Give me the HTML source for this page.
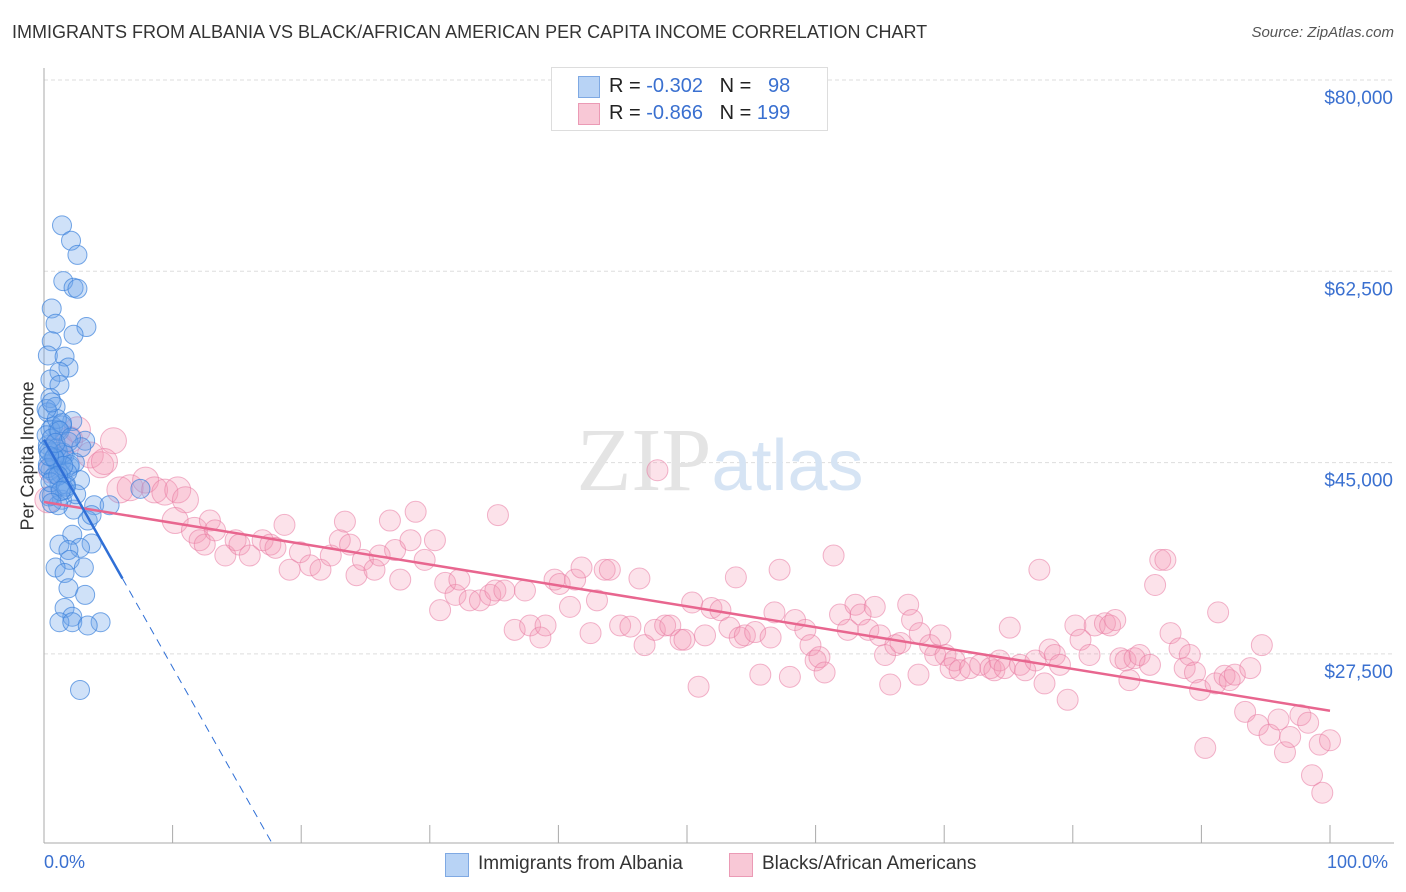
<!DOCTYPE html>
<html><head><meta charset="utf-8"><style>
body{margin:0;background:#fff;font-family:"Liberation Sans",sans-serif;}
#wrap{position:relative;width:1406px;height:892px;overflow:hidden;}
.t{position:absolute;white-space:nowrap;}
</style></head><body>
<div id="wrap">
<div class="t" style="left:12px;top:22px;font-size:18px;color:#333;">IMMIGRANTS FROM ALBANIA VS BLACK/AFRICAN AMERICAN PER CAPITA INCOME CORRELATION CHART</div>
<div class="t" style="right:12px;top:24px;font-size:15px;color:#555;font-style:italic;">Source: ZipAtlas.com</div>
<svg id="plot" width="1406" height="892" style="position:absolute;left:0;top:0"></svg>
<div class="t" style="left:28px;top:456px;font-size:18px;color:#333;transform:translate(-50%,-50%) rotate(-90deg);">Per Capita Income</div>
<div class="t" style="left:44px;top:852px;font-size:18px;color:#3a70d0;">0.0%</div>
<div class="t" style="left:1327px;top:852px;font-size:18px;color:#3a70d0;">100.0%</div>
<div style="position:absolute;left:551px;top:67px;width:275px;height:62px;border:1px solid #ddd;background:#fff;">
 <div style="position:absolute;left:26px;top:8px;width:20px;height:20px;background:#b8d3f5;border:1px solid #7fa9e3;"></div>
 <div class="t" style="left:57px;top:7px;font-size:20px;color:#222;">R = <span style="color:#3a70d0">-0.302</span>&nbsp;&nbsp;&nbsp;N = &nbsp;&nbsp;<span style="color:#3a70d0">98</span></div>
 <div style="position:absolute;left:26px;top:35px;width:20px;height:20px;background:#f8c8d6;border:1px solid #eb9ab5;"></div>
 <div class="t" style="left:57px;top:34px;font-size:20px;color:#222;">R = <span style="color:#3a70d0">-0.866</span>&nbsp;&nbsp;&nbsp;N = <span style="color:#3a70d0">199</span></div>
</div>
<div style="position:absolute;left:445px;top:853px;width:22px;height:22px;background:#b8d3f5;border:1px solid #7fa9e3;"></div>
<div class="t" style="left:478px;top:853px;font-size:19px;color:#333;">Immigrants from Albania</div>
<div style="position:absolute;left:729px;top:853px;width:22px;height:22px;background:#f8c8d6;border:1px solid #eb9ab5;"></div>
<div class="t" style="left:762px;top:853px;font-size:19px;color:#333;">Blacks/African Americans</div>
</div>
<script>
const yTicks=[80000,62500,45000,27500];
const yTickLabels=["$80,000","$62,500","$45,000","$27,500"];
const blueX=[1.4,2.1,2.6,1.5,2.3,2.6,0.6,0.9,3.3,2.3,0.6,0.3,1.6,1.9,1.2,0.5,1.2,0.5,0.9,0.3,2.2,1.4,0.7,3.2,0.3,1.1,1.4,2.0,0.9,2.8,7.5,3.9,1.4,2.3,3.4,2.2,3.7,1.2,2.8,1.9,2.0,0.9,3.1,1.6,1.9,3.2,1.6,2.2,1.2,2.2,4.4,3.4,2.8,0.9,0.5,1.2,1.6,1.1,0.5,1.6,2.0,0.3,0.6,1.1,5.1,3.7,0.4,0.8,1.3,1.7,0.2,0.6,1.0,1.5,2.4,0.3,0.7,1.8,2.5,0.4,1.0,1.4,0.2,0.6,1.2,1.9,0.3,0.8,1.5,2.9,0.5,1.1,1.7,0.4,0.9,2.1,1.3,0.6];
const blueY=[66.7,65.3,64.0,61.6,61.0,60.9,59.1,57.7,57.4,56.7,56.1,54.8,54.7,53.7,53.3,52.6,52.1,50.9,50.1,49.6,48.8,48.4,48.3,47.0,46.6,46.0,45.2,44.6,43.9,43.4,42.6,41.1,41.6,40.7,39.7,38.4,37.6,37.5,37.2,37.0,36.1,35.4,35.4,34.9,33.5,32.9,31.7,30.9,30.4,30.4,30.4,30.1,24.2,45.2,44.3,42.9,42.5,48.0,48.0,45.7,44.8,44.8,42.0,41.1,41.1,40.2,46.0,45.5,44.0,43.0,47.5,47.2,46.3,45.9,45.0,44.5,43.6,44.1,42.1,41.9,49.0,48.6,49.9,50.5,47.9,46.9,46.2,45.4,44.7,46.4,43.2,43.8,42.8,45.6,46.8,47.3,42.4,41.3];
const pinkX=[0.3,0.6,1.2,2.0,2.6,3.6,4.4,5.4,4.7,5.9,6.7,7.9,8.6,9.4,10.4,11.0,10.2,11.7,12.1,12.9,12.5,13.3,14.1,14.9,15.2,16.0,17.0,17.6,18.0,18.7,19.1,19.9,20.7,21.5,22.3,23.0,23.4,23.8,24.3,24.8,25.7,26.1,26.9,27.3,27.7,28.5,28.9,29.6,30.4,30.8,31.2,32.0,32.3,33.1,33.9,34.7,35.1,35.3,35.8,36.6,37.4,37.8,38.6,39.0,39.7,40.1,40.9,41.3,41.8,42.5,43.0,43.6,44.0,44.8,45.6,46.3,46.7,47.5,47.7,48.3,48.7,49.5,49.8,50.4,50.9,51.4,51.9,52.6,53.3,53.8,54.1,54.5,55.3,55.7,56.5,56.8,57.2,58.0,58.4,59.2,59.6,60.0,60.3,60.7,61.4,61.9,62.5,63.1,63.5,64.1,64.6,65.0,65.4,65.8,66.2,66.6,67.2,67.5,68.0,68.1,68.9,69.3,69.7,70.1,70.5,70.8,71.2,72.0,72.8,73.6,73.9,74.3,74.7,75.1,75.9,76.3,77.1,77.4,77.8,78.2,78.6,79.0,79.6,80.2,80.6,81.3,81.7,82.5,82.9,83.3,83.7,84.1,84.4,84.8,85.2,86.0,86.4,86.8,87.2,87.6,88.3,88.7,89.1,89.5,89.9,90.3,91.1,91.3,91.8,92.2,92.6,93.4,93.8,94.4,94.7,95.3,96.0,96.5,96.9,97.7,98.3,98.6,99.2,99.4,100];
const pinkY=[41.6,44.3,46.6,47.1,48.0,45.7,44.8,47.0,45.1,42.5,42.7,43.4,42.5,42.3,42.5,41.6,39.7,38.8,37.9,39.7,37.5,38.8,36.5,37.9,37.5,36.5,37.9,37.5,37.2,39.3,35.2,36.8,35.6,35.2,36.5,37.9,39.6,37.5,34.7,36.1,35.2,36.5,39.7,37.0,34.3,37.9,40.5,36.1,37.9,31.5,34.0,32.9,34.3,32.4,32.4,32.9,33.3,40.2,33.3,29.7,33.3,30.1,29.0,30.1,34.3,33.9,31.8,34.3,35.4,29.4,32.4,35.2,35.2,30.1,30.0,34.4,28.3,29.7,44.3,30.1,30.1,28.8,28.8,32.2,24.5,29.2,31.7,31.5,29.9,34.5,29.0,29.2,29.5,25.6,29.0,31.3,35.2,25.4,30.6,29.7,28.3,26.9,27.2,25.8,36.5,31.1,29.7,32.0,31.1,29.7,31.8,29.2,27.4,24.7,28.3,28.5,32.0,30.6,25.6,29.4,28.3,27.4,29.2,27.4,26.2,26.9,26.0,26.2,26.5,26.2,26.0,26.9,26.2,29.9,26.5,26.0,26.9,35.2,24.8,27.9,27.4,26.5,23.3,30.1,28.8,27.4,30.1,30.3,30.1,30.6,27.1,26.9,25.1,27.1,27.4,26.5,33.8,36.1,36.1,29.4,28.0,26.2,27.4,25.8,24.2,18.9,24.8,31.3,25.5,25.1,25.6,22.2,26.2,21.0,28.3,20.1,21.5,18.5,19.9,21.9,21.2,16.4,19.2,14.8,19.6];
const pinkTrend=[41.4,22.3];
const blueTrend=[47.1,34.4,6.1];
const NS="http://www.w3.org/2000/svg";
const svg=document.getElementById('plot');
const X0=44,X1=1330,Ytop=80,Ybot=843;
function sx(p){return X0+(X1-X0)*p/100;}
function sy(v){return 80+(80000-v)/17500*191.3;}
function mk(t,a){const e=document.createElementNS(NS,t);for(const k in a)e.setAttribute(k,a[k]);svg.appendChild(e);return e;}
yTicks.forEach((v,i)=>{
 const g=mk('line',{x1:X0,x2:1394,y1:sy(v),y2:sy(v),stroke:'#ddd','stroke-dasharray':'4,3'});
 
 
 const t=mk('text',{x:1393,y:sy(v)+24,'text-anchor':'end','font-size':'19','fill':'#3a70d0','font-family':'Liberation Sans, sans-serif'});
 t.textContent=yTickLabels[i];
 
 
});
const ax=mk('line',{x1:X0,x2:X0,y1:68,y2:Ybot,stroke:'#aaa'});


const bx=mk('line',{x1:X0,x2:1394,y1:Ybot,y2:Ybot,stroke:'#aaa'});


for(let i=0;i<=10;i++){
 const tk=mk('line',{x1:sx(i*10),x2:sx(i*10),y1:Ybot,y2:Ybot-18,stroke:'#aaa'});
 
 
}
const wm=mk('text',{x:720,y:490,'text-anchor':'middle','font-size':'90','fill':'#e4e4e4','font-family':'Liberation Serif, serif'});
wm.innerHTML='ZIP<tspan fill="#d6e4f4" font-family="Liberation Sans, sans-serif" font-size="72">atlas</tspan>';


pinkX.forEach((x,i)=>{
 const r=(x<12)?13:10.5;
 const c=mk('circle',{cx:sx(x),cy:sy(pinkY[i]*1000),r:r,fill:'rgba(243,150,180,0.28)',stroke:'rgba(232,120,160,0.55)','stroke-width':1});
 
 
});
blueX.forEach((x,i)=>{
 const c=mk('circle',{cx:sx(x),cy:sy(blueY[i]*1000),r:9.5,fill:'rgba(110,165,235,0.33)',stroke:'rgba(60,130,220,0.7)','stroke-width':1});
 
 
});
const pl=mk('line',{x1:sx(0),y1:sy(pinkTrend[0]*1000),x2:sx(100),y2:sy(pinkTrend[1]*1000),stroke:'#e8668f','stroke-width':2.5});


const slope=(blueTrend[1]-blueTrend[0])/blueTrend[2];
const bl=mk('line',{x1:sx(0),y1:sy(blueTrend[0]*1000),x2:sx(blueTrend[2]),y2:sy(blueTrend[1]*1000),stroke:'#2f6fd6','stroke-width':2.5});


const endV=10.2, endX=(endV-blueTrend[0])/slope;
const bd=mk('line',{x1:sx(blueTrend[2]),y1:sy(blueTrend[1]*1000),x2:sx(endX),y2:sy(endV*1000),stroke:'#2f6fd6','stroke-width':1,'stroke-dasharray':'8,6'});


</script>
</body></html>
